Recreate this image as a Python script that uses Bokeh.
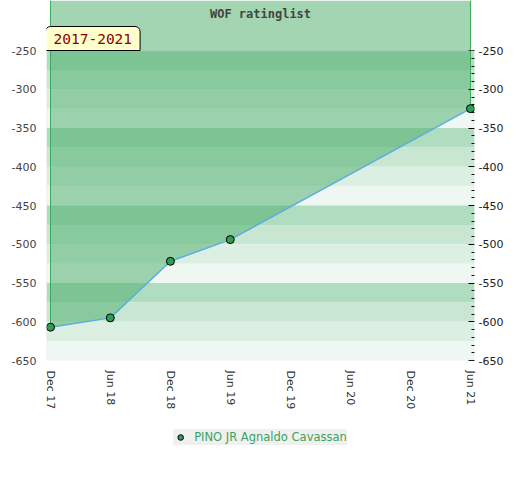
import pandas as pd
from bokeh.plotting import figure
from bokeh.layouts import column
from bokeh.models import (Range1d, LinearAxis, FixedTicker, DatetimeTickFormatter,
                          BoxAnnotation, Label, Legend, LegendItem, ColumnDataSource)
from bokeh.embed import file_html
from bokeh.resources import INLINE

# ---- data ----
dates = ["2017-12-01", "2018-06-01", "2018-12-01", "2019-06-01", "2021-06-01"]
ratings = [-607, -595, -522, -494, -325]
player = "PINO JR Agnaldo Cavassan"
tick_dates = ["2017-12-01", "2018-06-01", "2018-12-01", "2019-06-01",
              "2019-12-01", "2020-06-01", "2020-12-01", "2021-06-01"]
y_ticks = [-650, -600, -550, -500, -450, -400, -350, -300, -250]
title_text = "WOF ratinglist"
period_text = "2017-2021"

# ---- derived ----
dt = pd.to_datetime(dates)
x_ms = [d.value / 1e6 for d in dt]
tick_ms = [pd.Timestamp(d).value / 1e6 for d in tick_dates]

y_lo, y_hi = -650, -250
px_per_unit = 310 / 400.0
y_top = y_hi + 50 / px_per_unit   # frame extends above the band area

span_ms = tick_ms[-1] - tick_ms[0]
pad = span_ms * 4 / 420.0

p = figure(frame_width=428, frame_height=360, x_axis_type="datetime",
           output_backend="svg", toolbar_location=None,
           x_range=Range1d(tick_ms[0] - pad, tick_ms[-1] + pad),
           y_range=Range1d(y_lo, y_top),
           min_border_left=46, min_border_right=46, min_border_top=0,
           min_border_bottom=57)
p.outline_line_color = None
p.background_fill_color = "white"
p.border_fill_color = "white"
p.xgrid.visible = False
p.ygrid.visible = False

# bands
band_colors = ["#b0dcc0", "#c8e6d2", "#dcefe3", "#eef7f1"]
for i, top in enumerate(range(y_hi, y_lo, -25)):
    p.add_layout(BoxAnnotation(top=top, bottom=top - 25,
                               fill_color=band_colors[i % 4], fill_alpha=1.0,
                               line_color=None, level="underlay"))

src = ColumnDataSource(dict(x=x_ms, y=ratings, top=[y_top] * len(x_ms)))

# fill above line
p.varea(x="x", y1="y", y2="top", source=src, fill_color="#47ab67", fill_alpha=0.5)
# green edges
p.segment(x0=[x_ms[0], x_ms[-1]], y0=[ratings[0], ratings[-1]],
          x1=[x_ms[0], x_ms[-1]], y1=[y_top, y_top], line_color="#3aaa5c", line_width=1)
p.line(x="x", y="y", source=src, line_color="#5dade2", line_width=1.5)
sc = p.scatter(x="x", y="y", source=src, size=8, fill_color="#2f9e55",
               line_color="black", line_width=1)

# border around band area
p.add_layout(BoxAnnotation(top=y_hi, bottom=y_lo, fill_alpha=0, fill_color=None,
                           line_color="#d4d4d4", line_width=1.5))

labels_y = {v: str(v) for v in y_ticks}

# axes
yl = p.yaxis[0]
yl.ticker = FixedTicker(ticks=y_ticks, minor_ticks=[])
yl.major_label_overrides = labels_y
yl.axis_line_color = None
yl.major_tick_line_color = None
yl.minor_tick_line_color = None
yl.major_tick_out = 0
yl.major_tick_in = 0
yl.minor_tick_out = 0
yl.major_label_text_font = "DejaVu Sans"
yl.major_label_text_font_size = "11px"
yl.major_label_text_color = "#444444"
yl.major_label_standoff = 10

minor = [v for v in range(y_lo, y_hi + 1, 10) if v % 50 != 0]
yr = LinearAxis(ticker=FixedTicker(ticks=y_ticks, minor_ticks=minor))
yr.major_label_overrides = labels_y
yr.axis_line_color = None
yr.major_tick_in = 6
yr.major_tick_out = 0
yr.minor_tick_in = 3
yr.minor_tick_out = 0
yr.major_tick_line_color = "black"
yr.minor_tick_line_color = "black"
yr.major_label_text_font = "DejaVu Sans"
yr.major_label_text_font_size = "11px"
yr.major_label_text_color = "#222222"
yr.major_label_standoff = 4
p.add_layout(yr, "right")

xa = p.xaxis[0]
xa.ticker = FixedTicker(ticks=tick_ms, minor_ticks=[])
fmt = "%b %y"
xa.formatter = DatetimeTickFormatter(days=fmt, months=fmt, years=fmt, hours=fmt,
                                     minutes=fmt, seconds=fmt, milliseconds=fmt,
                                     microseconds=fmt, minsec=fmt, hourmin=fmt)
xa.major_label_orientation = "vertical"
xa.axis_line_color = None
xa.major_tick_line_color = None
xa.minor_tick_line_color = None
xa.major_tick_out = 0
xa.major_tick_in = 0
xa.minor_tick_out = 0
xa.major_label_text_font = "DejaVu Sans"
xa.major_label_text_font_size = "11px"
xa.major_label_text_color = "#333333"
xa.major_label_standoff = 10

# title inside the top area
p.add_layout(Label(x=(tick_ms[0] + tick_ms[-1]) / 2, y=y_hi + 37 / px_per_unit,
                   text=title_text, text_align="center", text_baseline="middle",
                   text_font="DejaVu Sans Mono", text_font_style="bold",
                   text_font_size="12px", text_color="#444444"))

# period badge
p.add_layout(Label(x=tick_ms[0] - pad, y=y_hi, x_offset=-1, y_offset=0,
                   text=period_text, text_align="left", text_baseline="bottom",
                   text_font="DejaVu Sans Mono", text_font_size="14.5px",
                   text_color="#8b0000", background_fill_color="#ffffcc",
                   border_line_color="black", border_line_width=1,
                   padding=(8, 7), border_radius=(5, 5, 0, 0)))

# legend strip below the chart
p2 = figure(width=520, height=40, output_backend="svg", toolbar_location=None,
            x_range=Range1d(0, 1), y_range=Range1d(0, 1),
            x_axis_location=None, y_axis_location=None, min_border=0)
p2.outline_line_color = None
p2.xgrid.visible = False
p2.ygrid.visible = False
sc2 = p2.scatter(x="x", y="y", source=src, size=8, fill_color="#2f9e55",
                 line_color="black", line_width=1)
legend = Legend(items=[LegendItem(label=player, renderers=[sc2])],
                location="center", orientation="horizontal",
                background_fill_color="#f0f0f0", background_fill_alpha=1.0,
                border_line_color=None, label_text_color="#3aa35d",
                label_text_font="DejaVu Sans", label_text_font_size="11.5px",
                glyph_width=14, glyph_height=16, padding=3, label_standoff=7,
                margin=0)
p2.add_layout(legend, "center")

layout = column(p, p2, spacing=0)
open("out.html", "w").write(file_html(layout, INLINE))
